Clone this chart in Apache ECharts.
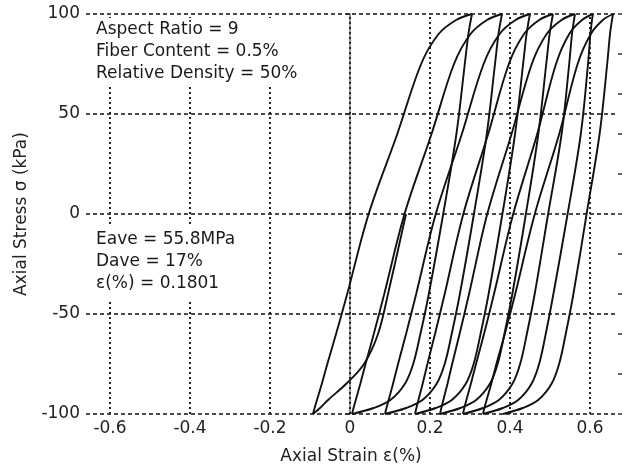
<!DOCTYPE html>
<html><head><meta charset="utf-8">
<script src="https://cdn.jsdelivr.net/npm/echarts@6/dist/echarts.min.js"></script>
<style>html,body{margin:0;padding:0;background:#fff}#c{width:624px;height:470px}</style>
</head><body><div id="c"></div>
<script>
// Stress levels (kPa) at which each branch's strain (%) was read
const stressLevels = [-100, -97, -93, -85, -75, -60, -40, 0, 40, 75, 90, 97, 100];

// Loading branches (bottom -> top)
const load0 = [-0.0925, -0.0885, -0.0826, -0.0706, -0.0567, -0.0349, -0.0070, 0.0466, 0.1182, 0.1778, 0.2215, 0.2653, 0.305];
const load1 = [0.005, 0.0088, 0.0144, 0.0256, 0.0388, 0.0594, 0.0856, 0.1363, 0.2038, 0.26, 0.3013, 0.3425, 0.38];
const load2 = [0.0875, 0.0911, 0.0966, 0.1074, 0.1201, 0.1401, 0.1654, 0.2144, 0.2796, 0.334, 0.3739, 0.4138, 0.45];
const load3 = [0.1625, 0.166, 0.1711, 0.1815, 0.1936, 0.2125, 0.2367, 0.2833, 0.3454, 0.3971, 0.4351, 0.473, 0.5075];
const load4 = [0.225, 0.2284, 0.2334, 0.2436, 0.2554, 0.2739, 0.2976, 0.3431, 0.4039, 0.4545, 0.4916, 0.5288, 0.5625];
const load5 = [0.2825, 0.2858, 0.2910, 0.3020, 0.3150, 0.3350, 0.3600, 0.4080, 0.4680, 0.5150, 0.5480, 0.5800, 0.6075];
const load6 = [0.3325, 0.3360, 0.3415, 0.3530, 0.3660, 0.3870, 0.4130, 0.4620, 0.5230, 0.5690, 0.6020, 0.6320, 0.6575];

// Unloading branches (top -> next bottom), listed at ascending stress
const unload0 = [0.005, 0.059, 0.101, 0.137, 0.158, 0.176, 0.197, 0.233, 0.266, 0.287, 0.296, 0.302, 0.305];
const unload1 = [0.0875, 0.1402, 0.1811, 0.2162, 0.2367, 0.2542, 0.2747, 0.3098, 0.342, 0.3625, 0.3712, 0.3771, 0.38];
const unload2 = [0.1625, 0.2143, 0.2545, 0.289, 0.3091, 0.3264, 0.3465, 0.381, 0.4126, 0.4328, 0.4414, 0.4471, 0.45];
const unload3 = [0.225, 0.2759, 0.3154, 0.3493, 0.3691, 0.386, 0.4058, 0.4397, 0.4708, 0.4906, 0.499, 0.5047, 0.5075];
const unload4 = [0.2825, 0.3329, 0.3721, 0.4057, 0.4253, 0.4421, 0.4617, 0.4953, 0.5290, 0.5480, 0.5550, 0.5600, 0.5625];
const unload5 = [0.3325, 0.382, 0.4205, 0.4535, 0.4728, 0.4893, 0.5085, 0.5440, 0.5770, 0.5950, 0.6010, 0.6050, 0.6075];
const unload6 = [0.3825, 0.432, 0.4705, 0.5035, 0.5228, 0.5393, 0.5585, 0.5915, 0.6240, 0.6430, 0.6500, 0.6550, 0.6575];

// Initial extension branch
const initStress = [-100, -97, -93, -85, -75, -60, -40, 0];
const initStrain = [-0.0925, -0.075, -0.055, -0.01, 0.035, 0.07, 0.095, 0.14];

const xTicks = [-0.6, -0.4, -0.2, 0, 0.2, 0.4, 0.6];

const box1 = ['Aspect Ratio = 9', 'Fiber Content = 0.5%', 'Relative Density = 50%'];
const box2 = ['Eave = 55.8MPa', 'Dave = 17%', 'ε(%) = 0.1801'];

const FONT = 'DejaVu Sans';
const branches = [load0, unload0, load1, unload1, load2, unload2, load3, unload3,
                  load4, unload4, load5, unload5, load6, unload6];

const curveSeries = branches.map(xs => ({
  type: 'line', z: 3,
  data: stressLevels.map((s, i) => [xs[i], s]),
  showSymbol: false, smooth: 0.35, clip: true,
  lineStyle: { color: '#111', width: 1.9 }, silent: true
}));
curveSeries.push({
  type: 'line', z: 3,
  data: initStress.map((s, i) => [initStrain[i], s]),
  showSymbol: false, smooth: 0.35, clip: true,
  lineStyle: { color: '#111', width: 1.9 }, silent: true
});

const gridSeries = {
  type: 'line', z: 1, data: [], silent: true,
  markLine: {
    z: 1, silent: true, symbol: ['none', 'none'], label: { show: false },
    animation: false,
    lineStyle: { color: '#222', type: [2, 3], width: 2 },
    emphasis: { disabled: true },
    data: xTicks.map(v => ({ xAxis: v }))
  }
};

function textBox(lines, x, y, w, h, y0) {
  const children = [{
    type: 'rect', shape: { x: x, y: y, width: w, height: h },
    style: { fill: '#fff' }, z: 2
  }];
  lines.forEach((t, i) => children.push({
    type: 'text', z: 2,
    style: { text: t, x: x + 8, y: y0 + i * 22, fill: '#1a1a1a',
             font: '17px "' + FONT + '"', textVerticalAlign: 'middle' }
  }));
  return children;
}

const chart = echarts.init(document.getElementById('c'), null, { renderer: 'canvas' });
chart.setOption({
  animation: false,
  backgroundColor: '#fff',
  grid: { left: 86, right: 8, top: 14, bottom: 54, containLabel: false },
  xAxis: {
    type: 'value', min: -0.66, max: 0.665,
    name: 'Axial Strain ε(%)', nameLocation: 'middle', nameGap: 34,
    nameTextStyle: { fontFamily: FONT, fontSize: 17, color: '#222' },
    axisLine: { show: false },
    axisTick: { show: false, customValues: xTicks },
    axisLabel: { customValues: xTicks, fontFamily: FONT, fontSize: 17, color: '#222', margin: 6 },
    splitLine: { show: false }
  },
  yAxis: [{
    type: 'value', min: -100, max: 100, interval: 50,
    name: 'Axial Stress σ (kPa)', nameLocation: 'middle', nameGap: 56,
    nameTextStyle: { fontFamily: FONT, fontSize: 17, color: '#222' },
    axisLine: { show: true, lineStyle: { color: '#999', width: 2 } },
    axisTick: { show: true, length: 4, lineStyle: { color: '#222', width: 1.5 } },
    axisLabel: { fontFamily: FONT, fontSize: 17, color: '#222', margin: 6 },
    splitLine: { show: true, showMinLine: true, showMaxLine: true,
                 lineStyle: { color: '#111', type: [4, 3], width: 1.6 } }
  }, {
    type: 'value', min: -100, max: 100, interval: 20, position: 'right', offset: 2,
    axisLine: { show: false },
    axisTick: { show: true, length: 4, lineStyle: { color: '#333', width: 1.5 } },
    axisLabel: { show: false },
    splitLine: { show: false }
  }],
  graphic: [
    { type: 'group', z: 2, children: textBox(box1, 88, 18, 222, 68, 30) },
    { type: 'group', z: 2, children: textBox(box2, 88, 226, 166, 74, 240) }
  ],
  series: [gridSeries].concat(curveSeries)
});
</script>
</body></html>
